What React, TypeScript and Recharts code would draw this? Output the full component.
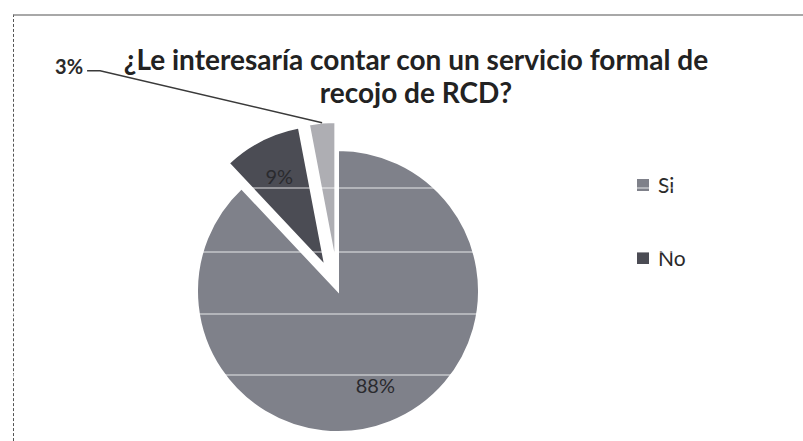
import { PieChart, Pie, Cell, Sector, Legend } from "recharts";

const categories = ["Si", "No", "No sabe"];
const shares = [88, 9, 3];
const sliceColors = ["#7f818a", "#4b4c54", "#aeaeb3"];
const explodeBy = [0, 28, 28];
const legendItems = ["Si", "No"];
const titleLines = ["¿Le interesaría contar con un servicio formal de", "recojo de RCD?"];

const data = categories.map((name, i) => ({ name, value: shares[i] }));

const RAD = Math.PI / 180;
const FONT = "Lato, 'Open Sans', sans-serif";

const sliceIndex = (p: any) =>
  typeof p.index === "number" ? p.index : categories.indexOf(p.name);

// pulled-out slice centre, moved along its mid angle
const shifted = (p: any) => {
  const d = explodeBy[sliceIndex(p)] ?? 0;
  return {
    x: p.cx + d * Math.cos(-p.midAngle * RAD),
    y: p.cy + d * Math.sin(-p.midAngle * RAD),
  };
};

const ExplodedSlice = (p: any) => {
  const c = shifted(p);
  return (
    <Sector
      cx={c.x}
      cy={c.y}
      innerRadius={p.innerRadius}
      outerRadius={p.outerRadius}
      startAngle={p.startAngle}
      endAngle={p.endAngle}
      fill={p.fill}
      stroke="#ffffff"
      strokeWidth={2}
    />
  );
};

const SliceLabel = (p: any) => {
  const i = sliceIndex(p);
  const c = shifted(p);
  const cos = Math.cos(-p.midAngle * RAD);
  const sin = Math.sin(-p.midAngle * RAD);
  const text = `${Math.round(p.percent * 100)}%`;

  if (i === 2) {
    // small slice: label pulled out to the upper left with a leader line
    const sx = c.x + p.outerRadius * cos;
    const sy = c.y + p.outerRadius * sin;
    const ex = sx - 235;
    const ey = sy - 52;
    return (
      <g>
        <polyline
          points={`${sx},${sy} ${ex + 13},${ey} ${ex},${ey}`}
          fill="none"
          stroke="#3a3a3a"
          strokeWidth={1.5}
        />
        <text
          x={ex - 4}
          y={ey - 5}
          textAnchor="end"
          dominantBaseline="central"
          fontFamily={FONT}
          fontWeight={700}
          fontSize={20}
          fill="#2a2a2a"
        >
          {text}
        </text>
      </g>
    );
  }

  const r = p.outerRadius * 0.72;
  return (
    <text
      x={c.x + r * cos}
      y={c.y + r * sin}
      textAnchor="middle"
      dominantBaseline="central"
      fontFamily={FONT}
      fontSize={20}
      fill="#2a2a2e"
    >
      {text}
    </text>
  );
};

const LegendList = () => (
  <div style={{ fontFamily: FONT, fontSize: 21, color: "#2a2a2a" }}>
    {legendItems.map((name) => (
      <div key={name} style={{ display: "flex", alignItems: "center", height: 73 }}>
        <span
          style={{
            display: "inline-block",
            width: 12,
            height: 12,
            marginRight: 9,
            background: sliceColors[categories.indexOf(name)],
          }}
        />
        {name}
      </div>
    ))}
  </div>
);

const App = () => {
  return (
    <div
      style={{
        position: "absolute",
        left: 0,
        top: 0,
        width: 803,
        height: 441,
        background: "#ffffff",
        overflow: "hidden",
      }}
    >
      <div
        style={{
          position: "absolute",
          left: 13,
          top: 14,
          width: 800,
          height: 440,
          borderTop: "2px solid #a8a8a8",
          borderLeft: "1.5px dashed #555",
        }}
      />
      <div
        style={{
          position: "absolute",
          left: 0,
          top: 43,
          width: 832,
          textAlign: "center",
          fontFamily: FONT,
          fontWeight: 700,
          fontSize: 28,
          lineHeight: "33px",
          color: "#222",
        }}
      >
        {titleLines.map((t) => (
          <div key={t}>{t}</div>
        ))}
      </div>
      <PieChart width={803} height={441} margin={{ top: 0, right: 0, bottom: 0, left: 0 }}>
        <Pie
          data={data}
          dataKey="value"
          nameKey="name"
          cx={338}
          cy={291}
          outerRadius={141}
          startAngle={90}
          endAngle={-270}
          shape={ExplodedSlice}
          activeShape={ExplodedSlice}
          label={SliceLabel}
          labelLine={false}
          isAnimationActive={false}
        >
          {data.map((d, i) => (
            <Cell key={d.name} fill={sliceColors[i]} />
          ))}
        </Pie>
        <Legend
          layout="vertical"
          align="right"
          verticalAlign="top"
          content={LegendList}
          wrapperStyle={{ left: 637, top: 148, width: 90 }}
        />
      </PieChart>
      <svg
        width={803}
        height={441}
        style={{ position: "absolute", left: 0, top: 0, pointerEvents: "none" }}
      >
        {[188, 252, 314, 375].map((y) => (
          <line key={y} x1={0} x2={803} y1={y} y2={y} stroke="#ffffff" strokeOpacity={0.55} strokeWidth={1.5} />
        ))}
      </svg>
    </div>
  );
};

export default App;
